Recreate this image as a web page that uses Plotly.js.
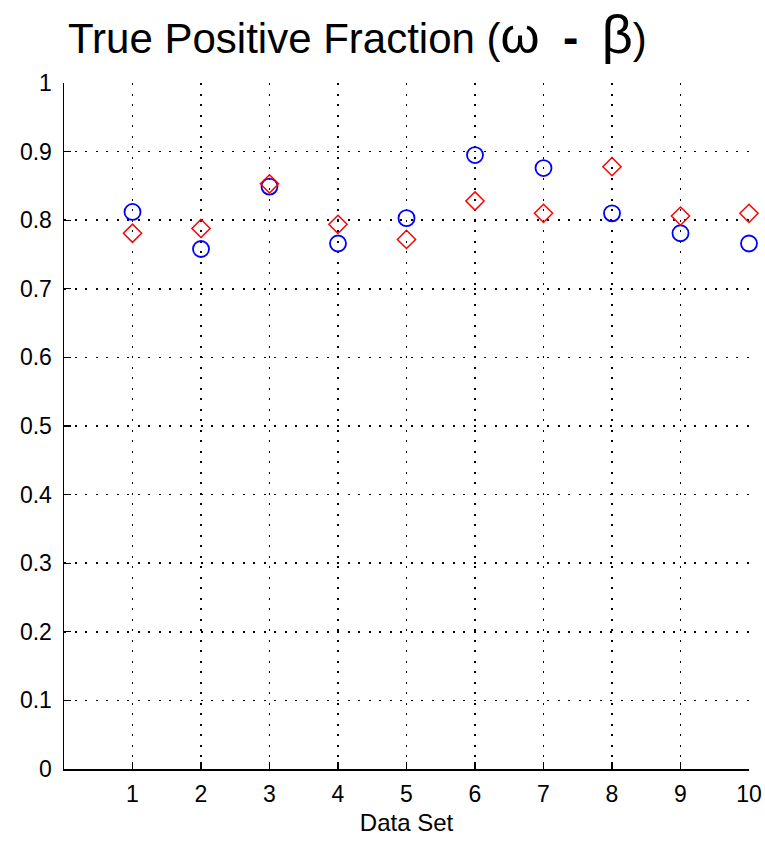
<!DOCTYPE html>
<html>
<head>
<meta charset="utf-8">
<script src="https://cdn.plot.ly/plotly-3.0.1.min.js"></script>
<style>html,body{margin:0;padding:0;background:#fff;}#chart{width:765px;height:844px;}</style>
</head>
<body>
<div id="chart"></div>
<script>
const dataSets = [1, 2, 3, 4, 5, 6, 7, 8, 9, 10];
const blueCircles = [0.812, 0.758, 0.849, 0.766, 0.803, 0.895, 0.876, 0.810, 0.781, 0.766];
const redDiamonds = [0.781, 0.788, 0.853, 0.794, 0.772, 0.828, 0.810, 0.878, 0.806, 0.810];
const yTicks = [0, 0.1, 0.2, 0.3, 0.4, 0.5, 0.6, 0.7, 0.8, 0.9, 1];
const yTickText = ['0', '0.1', '0.2', '0.3', '0.4', '0.5', '0.6', '0.7', '0.8', '0.9', '1'];

const traces = [
  {x: dataSets, y: blueCircles, type: 'scatter', mode: 'markers', cliponaxis: false,
   marker: {symbol: 'circle-open', size: 16, color: '#0000ff', line: {width: 1.8, color: '#0000ff'}}},
  {x: dataSets, y: redDiamonds, type: 'scatter', mode: 'markers', cliponaxis: false,
   marker: {symbol: 'diamond-open', size: 14, color: '#ff0000', line: {width: 1.5, color: '#ff0000'}}}
];

const FONT = 'Liberation Sans, Arial, sans-serif';
const layout = {
  width: 765, height: 844,
  margin: {l: 64, r: 16, t: 83, b: 75},
  paper_bgcolor: '#fff', plot_bgcolor: '#fff',
  showlegend: false,
  font: {family: FONT, color: '#000'},
  title: {
    text: "True Positive Fraction (<span style='font-size:50px'>ω</span>  <span style='font-size:46px'><b>-</b></span>  <span style='font-size:54px'>β</span>)",
    font: {size: 42, color: '#000', family: FONT},
    xref: 'container', x: 68/765, xanchor: 'left',
    yref: 'container', y: 1 - 38/844, yanchor: 'middle'
  },
  xaxis: {
    range: [0, 10], tickvals: dataSets, ticktext: dataSets.map(String),
    showline: true, linecolor: '#000', linewidth: 1.5,
    ticks: 'inside', ticklen: 7, tickcolor: '#000', tickwidth: 1.2,
    showgrid: true, gridcolor: '#000', griddash: '2px,8.5px', gridwidth: 1.5,
    zeroline: false, mirror: false,
    tickfont: {size: 23, color: '#000'}, ticklabelstandoff: 4,
    title: {text: 'Data Set', font: {size: 24, color: '#000'}, standoff: 8}
  },
  yaxis: {
    range: [0, 1], tickvals: yTicks, ticktext: yTickText,
    showline: true, linecolor: '#000', linewidth: 1.5,
    ticks: 'inside', ticklen: 7, tickcolor: '#000', tickwidth: 1.2,
    showgrid: true, gridcolor: '#000', griddash: '2px,8.5px', gridwidth: 1.5,
    zeroline: false, mirror: false,
    tickfont: {size: 23, color: '#000'}, ticklabelstandoff: 6
  }
};

Plotly.newPlot('chart', traces, layout, {displayModeBar: false, staticPlot: true});
</script>
</body>
</html>
